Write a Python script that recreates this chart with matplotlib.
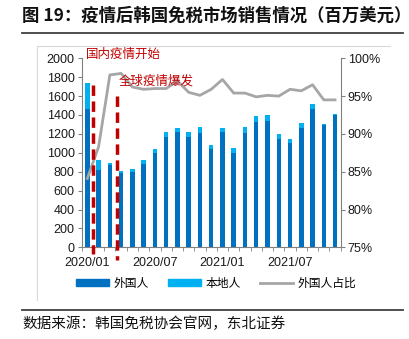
import matplotlib
matplotlib.use("Agg")
import matplotlib.pyplot as plt
from matplotlib.lines import Line2D
from matplotlib.patches import Patch
import numpy as np

plt.rcParams['font.family'] = ['Liberation Sans', 'Noto Sans CJK SC', 'DejaVu Sans']

months = ["2020/01", "2020/02", "2020/03", "2020/04", "2020/05", "2020/06", "2020/07",
          "2020/08", "2020/09", "2020/10", "2020/11", "2020/12", "2021/01", "2021/02",
          "2021/03", "2021/04", "2021/05", "2021/06", "2021/07", "2021/08", "2021/09",
          "2021/10", "2021/11"]
foreign = [1463, 817, 871, 790, 800, 881, 995, 1170, 1224, 1164, 1213, 1040,
           1224, 1001, 1213, 1329, 1337, 1146, 1100, 1262, 1460, 1291, 1400]
local = [279, 107, 18, 14, 28, 43, 45, 47, 35, 53, 57, 43,
         35, 53, 57, 60, 60, 53, 50, 50, 53, 10, 11]
share = [84.1, 88.3, 97.8, 98.0, 96.2, 95.9, 96.0, 96.0, 97.0, 95.5, 95.1, 95.9,
         97.2, 95.4, 95.4, 94.9, 95.1, 95.0, 95.9, 95.7, 96.5, 94.5, 94.5]
tick_labels = ["2020/01", "2020/07", "2021/01", "2021/07"]
left_ticks = list(range(0, 2001, 200))
right_ticks = [75, 80, 85, 90, 95, 100]
events = ["国内疫情开始", "全球疫情爆发"]
event_pos = [0.53, 2.65]

W, H = 410, 339
fig = plt.figure(figsize=(W / 100, H / 100), dpi=100)

def fx(px):
    return px / W

def fy(py):
    return 1 - py / H

ax = fig.add_axes([fx(81.7), fy(247.3), fx(340.7) - fx(81.7), fy(58.3) - fy(247.3)])
ax2 = ax.twinx()

dark = '#0070C0'
light = '#00B0F0'
grey = '#A6A6A6'
red = '#C00000'
x = np.arange(len(months))
ax.bar(x, foreign, width=0.4, color=dark, zorder=2)
ax.bar(x, local, width=0.4, bottom=foreign, color=light, zorder=2)
ax2.plot(x, share, color=grey, lw=2, zorder=3)

ax.set_xlim(-0.5, len(months) - 0.5)
ax.set_ylim(0, 2000)
ax2.set_ylim(75, 100)
ax.set_yticks(left_ticks)
ax.set_yticklabels([str(v) for v in left_ticks], fontsize=9, color='#1a1a1a')
ax2.set_yticks(right_ticks)
ax2.set_yticklabels([f"{v}%" for v in right_ticks], fontsize=9, color='#1a1a1a')

idx = [months.index(t) for t in tick_labels]
ax.set_xticks(idx)
ax.set_xticklabels(tick_labels, fontsize=9, color='#1a1a1a')
ax.set_xticks(np.arange(-0.5, len(months), 1), minor=True)
ax.tick_params(axis='x', which='major', length=0, pad=7)
ax.tick_params(axis='x', which='minor', length=3, color='#808080', direction='out')
ax.tick_params(axis='y', length=3, color='#808080', direction='out', pad=2)
ax2.tick_params(axis='y', length=3, color='#808080', direction='out', pad=2)

for a in (ax, ax2):
    a.spines['top'].set_visible(False)
    for s in ('left', 'right', 'bottom'):
        a.spines[s].set_color('#808080')
        a.spines[s].set_linewidth(0.8)
ax.spines['right'].set_visible(False)
ax2.spines['left'].set_visible(False)
ax2.spines['bottom'].set_visible(False)

# red dashed event lines (extending below axis)
ax2.plot([event_pos[0], event_pos[0]], [96.5, 74.1], transform=ax2.transData,
         color=red, lw=2.5, ls=(0, (3, 1.6)), clip_on=False, zorder=4)
ax2.plot([event_pos[1], event_pos[1]], [95.0, 73.3], transform=ax2.transData,
         color=red, lw=2.5, ls=(0, (3, 1.6)), clip_on=False, zorder=4)

cjk = ['Noto Sans CJK SC', 'DejaVu Sans']
fig.text(fx(86), fy(54), events[0], color=red, fontsize=9, va='center', ha='left', family=cjk)
fig.text(fx(119), fy(81), events[1], color=red, fontsize=9, va='center', ha='left', family=cjk)

# title
fig.text(fx(22), fy(16), "图 19：疫情后韩国免税市场销售情况（百万美元）", fontsize=12.5,
         fontweight='bold', va='center', ha='left', family=cjk, color='#111111')
fig.add_artist(Line2D([fx(22), fx(403)], [fy(33), fy(33)], color='#404040', lw=1.3))
# frame
fig.add_artist(Line2D([fx(37), fx(390)], [fy(46), fy(46)], color='#D9D9D9', lw=0.8))
fig.add_artist(Line2D([fx(37), fx(37)], [fy(46), fy(300)], color='#D9D9D9', lw=0.8))
# bottom rule and source
fig.add_artist(Line2D([fx(22), fx(403)], [fy(310), fy(310)], color='#404040', lw=1.3))
fig.text(fx(22), fy(324), "数据来源：韩国免税协会官网，东北证券", fontsize=10.5,
         va='center', ha='left', family=cjk, color='#111111')

handles = [Patch(color=dark), Patch(color=light), Line2D([0], [0], color=grey, lw=2)]
labels = ["外国人", "本地人", "外国人占比"]
leg = fig.legend(handles, labels, loc='center', bbox_to_anchor=(fx(216), fy(283)),
                 ncol=3, frameon=False, prop={'family': cjk, 'size': 8.5},
                 handlelength=2.8, handleheight=0.5, columnspacing=1.6, handletextpad=0.4)

fig.savefig("out.png", dpi=100)
